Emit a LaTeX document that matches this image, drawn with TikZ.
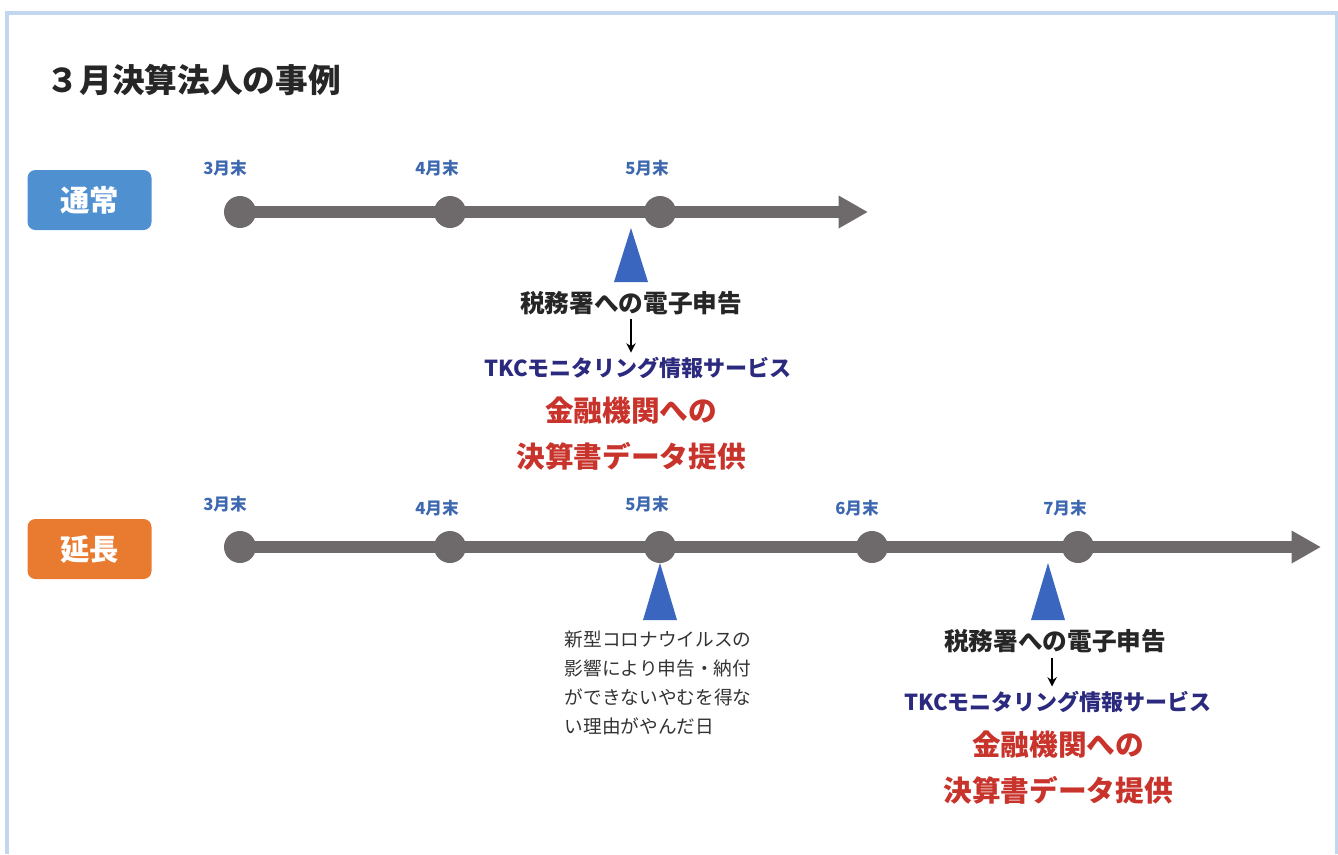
\documentclass[tikz,border=0pt]{standalone}
\usepackage{fontspec}
\setmainfont{Noto Sans CJK JP}
\usetikzlibrary{arrows.meta}
\definecolor{framebl}{HTML}{C3D6EF}
\definecolor{badgebl}{HTML}{4F90D0}
\definecolor{badgeor}{HTML}{E87B30}
\definecolor{linegr}{HTML}{6E6A6C}
\definecolor{monthbl}{HTML}{3D68B0}
\definecolor{tribl}{HTML}{3A66C0}
\definecolor{navy}{HTML}{2B2A7E}
\definecolor{redtx}{HTML}{C8332B}
\definecolor{notegr}{HTML}{333333}
\tikzset{
  badge/.style={rectangle, rounded corners=6pt, minimum width=93pt, minimum height=45pt, text=white, font=\fontsize{22}{24}\selectfont\bfseries},
  dot/.style={circle, fill=linegr, minimum size=24pt, inner sep=0pt},
  month/.style={text=monthbl, font=\fontsize{12.5}{14}\selectfont\bfseries},
  axis/.style={linegr, line width=9pt, -{Triangle[length=22pt,width=23pt]}},
  tri/.style={fill=tribl},
  tax/.style={font=\fontsize{18.5}{20}\selectfont\bfseries, text=black!85},
  tkc/.style={font=\fontsize{16.5}{18}\selectfont\bfseries, text=navy},
  bank/.style={font=\fontsize{21.5}{24}\selectfont\bfseries, text=redtx},
  note/.style={align=left, text=notegr, font=\fontsize{14}{21.8}\selectfont},
  down/.style={-{Stealth[length=7pt,width=7pt]}, draw, line width=1pt}
}
\begin{document}
\begin{tikzpicture}[x=0.75pt, y=-0.75pt]
    \useasboundingbox (0,0) rectangle (1338,854);
    % frame
    \draw[framebl, line width=2.3pt] (7,854) -- (7,13) -- (1336.5,13) -- (1336.5,854);
    \node [anchor=west, font=\fontsize{24.5}{26}\selectfont\bfseries, text=black!85] (title) at (42,80) {３月決算法人の事例};
    % normal case
    \node [badge, fill=badgebl] (normal) at (89.5,200) {通常};
    \node [dot] (na3) at (240,212) {};
    \node [dot] (na4) at (450,212) {};
    \node [dot] (na5) at (660,212) {};
    \coordinate (nend) at (868,212);
    \draw [axis] (na3.center) -- (nend);
    \node [month] at (225,168) {3月末};
    \node [month] at (437,168) {4月末};
    \node [month] at (647,168) {5月末};
    \coordinate (ntri) at (631,228);
    \fill [tri] (ntri) -- ++(-17,54) -- ++(34,0) -- cycle;
    \node [tax] (ntax) at (631,303) {税務署への電子申告};
    \node [tkc] (ntkc) at (638,368) {TKCモニタリング情報サービス};
    \path[down] (ntax.south) -- (ntax.south |- ntkc.north);
    \node [bank] (nbank) at (631,411) {金融機関への};
    \node [bank] (ndata) at (631,456) {決算書データ提供};
    % extended case
    \node [badge, fill=badgeor] (ext) at (89.5,549) {延長};
    \node [dot] (ea3) at (240,547) {};
    \node [dot] (ea4) at (450,547) {};
    \node [dot] (ea5) at (660,547) {};
    \node [dot] (ea6) at (872,547) {};
    \node [dot] (ea7) at (1078,547) {};
    \coordinate (eend) at (1321,547);
    \draw [axis] (ea3.center) -- (eend);
    \node [month] at (225,504) {3月末};
    \node [month] at (437,508) {4月末};
    \node [month] at (647,504) {5月末};
    \node [month] at (857,508) {6月末};
    \node [month] at (1065,508) {7月末};
    \coordinate (etri1) at (660,563);
    \fill [tri] (etri1) -- ++(-17,57) -- ++(34,0) -- cycle;
    \node [note, anchor=north west] (enote) at (560,626) {新型コロナウイルスの\\影響により申告・納付\\ができないやむを得な\\い理由がやんだ日};
    \coordinate (etri2) at (1048,563);
    \fill [tri] (etri2) -- ++(-17,57) -- ++(34,0) -- cycle;
    \node [tax] (etax) at (1055,641) {税務署への電子申告};
    \node [tkc] (etkc) at (1058,702) {TKCモニタリング情報サービス};
    \path[down] ([xshift=-2.2pt]etax.south) -- ([xshift=-2.2pt]etax.south |- etkc.north);
    \node [bank] (ebank) at (1058,745) {金融機関への};
    \node [bank] (edata) at (1058,790) {決算書データ提供};
\end{tikzpicture}
\end{document}
